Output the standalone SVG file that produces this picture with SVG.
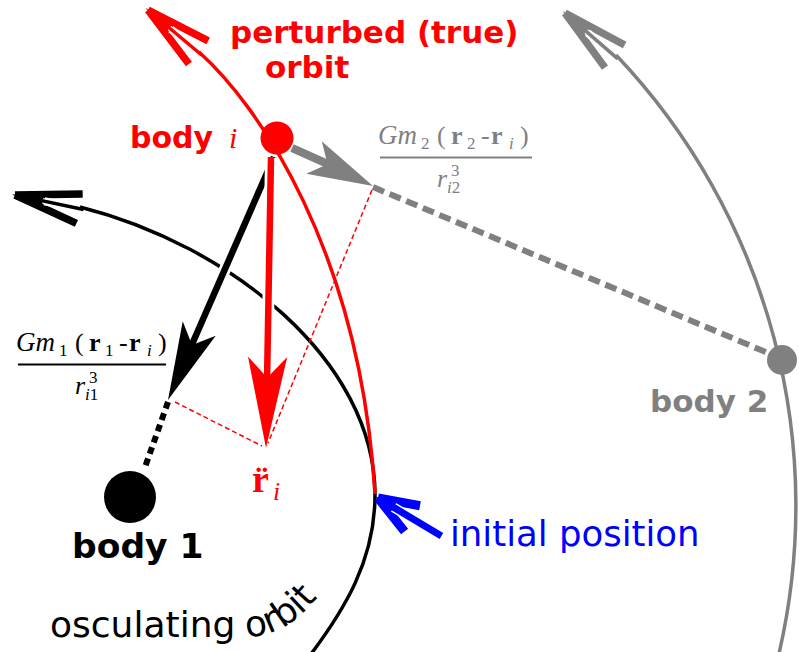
<svg xmlns="http://www.w3.org/2000/svg" width="799" height="652" viewBox="0 0 799 652">
<style>
.sans{font-family:"DejaVu Sans",Verdana,sans-serif}
.b{font-weight:bold}
.ser{font-family:"Liberation Serif","Times New Roman",serif}
.it{font-style:italic}
.orb{fill:none;stroke-width:3.5}
.cas{stroke:#fff;fill:none}
.red{fill:#ff0000}
.grey{fill:#808080}
</style>
<defs>
<g id="ah">
<path d="M0,0 L-66,-15 M0,0 L-66,15" fill="none" stroke="currentColor" stroke-width="7.5"/>
<path d="M-62,0 L-30,0" stroke="#fff" stroke-width="8"/>
<path d="M3,0 L-28,-8 L-28,8 Z" fill="currentColor"/>
<path d="M-70,0 L-14,0" stroke="currentColor" stroke-width="3.5"/>
</g>
<path id="head" d="M0,0 L-78,-18 L-60,0 L-78,18 Z"/>
</defs>
<rect width="799" height="652" fill="#fff"/>
<g id="connectors">
<g id="orbits">
<path class="orb" stroke="#808080" d="M616,55 A655,655 0 0 1 777,662"/>
<path class="orb" stroke="#000" d="M80,207 C230,245 375,360 375,495 C375,560 345,610 305,662"/>
<path class="orb" stroke="#ff0000" d="M199,52 C258,105 360,250 375,494"/>
<use href="#ah" color="#808080" transform="translate(565,13) rotate(221)"/>
<use href="#ah" color="#000000" transform="translate(15,195) rotate(192)"/>
<use href="#ah" color="#ff0000" transform="translate(148,10) rotate(220)"/>
</g>
<g id="dashes">
<path d="M168,402 L144,470" stroke="#000" stroke-width="6" stroke-dasharray="7 5" fill="none"/>
<path d="M373,187 L768,353" stroke="#808080" stroke-width="6" stroke-dasharray="12 6" fill="none"/>
<path d="M175,402 L262,446 M372,190 L268,443" stroke="#ff0000" stroke-width="1.5" stroke-dasharray="5 3" fill="none"/>
</g>
<g id="force-arrows">
<path class="cas" stroke-width="12" d="M274,157 L192,345"/>
<path stroke="#000" stroke-width="6.5" fill="none" d="M274,157 L190,349"/>
<use href="#head" fill="#000" transform="translate(168,400) rotate(113.6)"/>
<path class="cas" stroke-width="12" d="M271,158 L267,380"/>
<path stroke="#ff0000" stroke-width="6.5" fill="none" d="M271,157 L267,382"/>
<use href="#head" fill="#ff0000" transform="translate(266,448) rotate(91) scale(1.17,1.09)"/>
<path stroke="#808080" stroke-width="8" fill="none" d="M292,148 L330,165"/>
<use href="#head" fill="#808080" transform="translate(373,186) rotate(25.7) scale(0.84,1)"/>
</g>
<g id="initial-arrow" transform="translate(378,498) rotate(211)">
<path d="M0,0 L-40,-15 M0,0 L-40,15" fill="none" stroke="#0000ff" stroke-width="9"/>
<path d="M-38,0 L-18,0" stroke="#fff" stroke-width="10"/>
<path d="M3,0 L-18,-7 L-18,7 Z" fill="#0000ff"/>
<path d="M-74,0 L-8,0" stroke="#0000ff" stroke-width="7"/>
</g>
</g>
<g id="body-i">
<circle cx="277" cy="138" r="16.5" fill="#ff0000"/>
<text class="red" y="148"><tspan class="sans b" x="130" font-size="30">body</tspan><tspan class="ser it" x="229" font-size="30">i</tspan></text>
</g>
<g id="body-1">
<circle cx="130" cy="497" r="26" fill="#000"/>
<text class="sans b" x="72" y="558" font-size="34.5">body 1</text>
</g>
<g id="body-2">
<circle cx="782" cy="360" r="15" fill="#808080"/>
<text class="sans b grey" x="650" y="412" font-size="31">body 2</text>
</g>
<g id="label-perturbed" class="sans b red" font-size="31">
<text x="230" y="43">perturbed (true)</text>
<text x="265" y="78">orbit</text>
</g>
<g id="label-initial">
<text class="sans" x="450" y="546" font-size="35.5" fill="#0000ff">initial position</text>
</g>
<g id="label-osculating">
<path id="oscpath" d="M50,637 L245,637 C278,637 306,618 333,576" fill="none"/>
<text class="sans" font-size="36" fill="#000"><textPath href="#oscpath">osculating orbit</textPath></text>
</g>
<g id="formula-2" class="ser grey">
<text font-size="26"><tspan x="378" y="144" class="it" font-size="27">Gm</tspan><tspan x="421" y="149" font-size="17">2</tspan><tspan x="437" y="144">(</tspan><tspan x="451" y="144" font-weight="bold">r</tspan><tspan x="467" y="149" font-size="17">2</tspan><tspan x="481" y="144">-</tspan><tspan x="491" y="144" font-weight="bold">r</tspan><tspan x="509" y="149" font-size="17" class="it">i</tspan><tspan x="520" y="144">)</tspan></text>
<rect x="380" y="156.5" width="152" height="2" fill="#808080"/>
<text font-size="26"><tspan x="437" y="187" class="it">r</tspan><tspan x="451" y="176" font-size="17">3</tspan><tspan x="447" y="193" font-size="17" class="it">i</tspan><tspan font-size="17">2</tspan></text>
</g>
<g id="formula-1" class="ser" fill="#000" transform="translate(-362,207)">
<text font-size="26"><tspan x="378" y="144" class="it" font-size="27">Gm</tspan><tspan x="421" y="149" font-size="17">1</tspan><tspan x="437" y="144">(</tspan><tspan x="451" y="144" font-weight="bold">r</tspan><tspan x="467" y="149" font-size="17">1</tspan><tspan x="481" y="144">-</tspan><tspan x="491" y="144" font-weight="bold">r</tspan><tspan x="509" y="149" font-size="17" class="it">i</tspan><tspan x="520" y="144">)</tspan></text>
<rect x="380" y="156.5" width="148" height="2" fill="#000"/>
<text font-size="26"><tspan x="437" y="187" class="it">r</tspan><tspan x="451" y="176" font-size="17">3</tspan><tspan x="447" y="193" font-size="17" class="it">i</tspan><tspan font-size="17">1</tspan></text>
</g>
<g id="label-accel" class="ser red">
<text><tspan x="252" y="492" font-size="38" font-weight="bold">r̈</tspan><tspan x="273" y="500" font-size="26" class="it">i</tspan></text>
</g>
</svg>
